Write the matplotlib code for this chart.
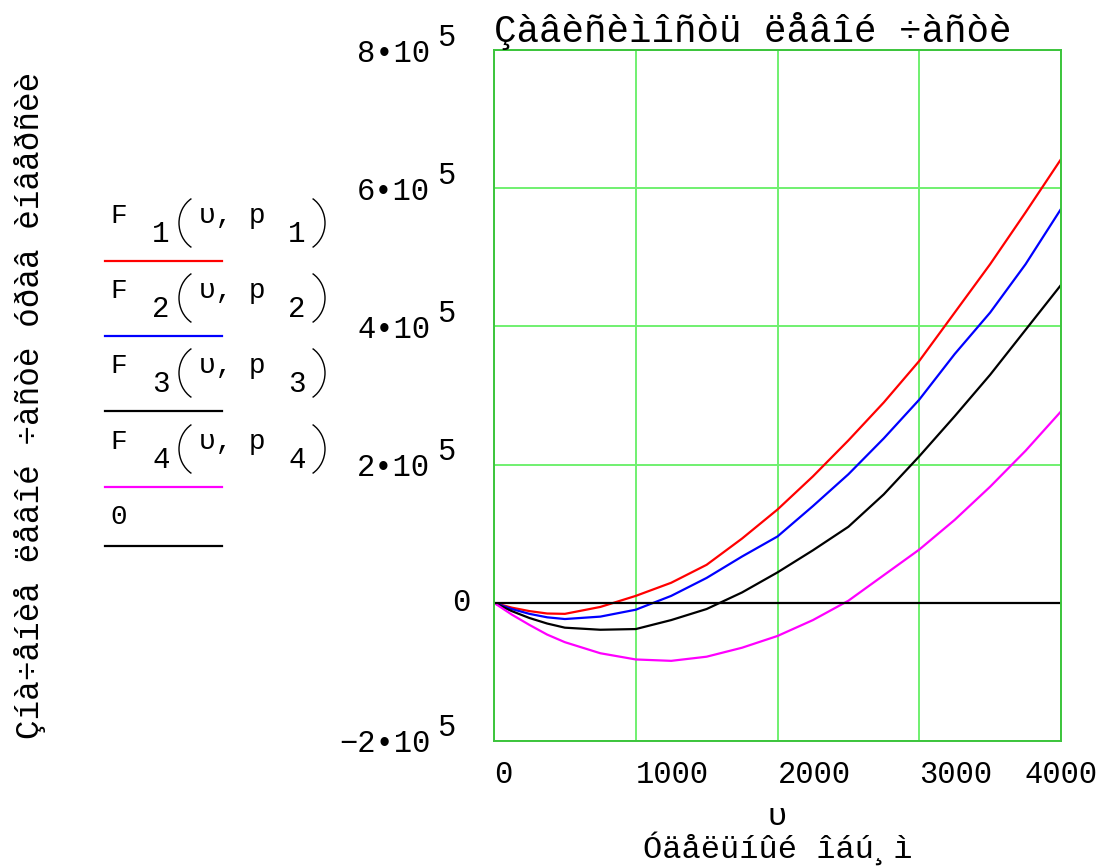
import numpy as np
import matplotlib
matplotlib.use('Agg')
import matplotlib.pyplot as plt
from matplotlib.lines import Line2D
from matplotlib.patches import Arc

plt.rcParams['font.family'] = ['Liberation Mono', 'DejaVu Sans Mono', 'DejaVu Sans']

# specific volume (x) and left side values
v = [0, 125, 250, 375, 500, 750, 1000, 1250, 1500, 1750, 2000,
     2250, 2500, 2750, 3000, 3250, 3500, 3750, 4000]
F1 = [0, -7e3, -1.2e4, -1.55e4, -1.6e4, -6e3, 1.0e4, 2.9e4, 5.5e4, 9.3e4, 1.35e5,
      1.83e5, 2.35e5, 2.9e5, 3.5e5, 4.2e5, 4.9e5, 5.65e5, 6.42e5]
F2 = [0, -9e3, -1.6e4, -2.1e4, -2.35e4, -2.0e4, -1.0e4, 1.0e4, 3.6e4, 6.7e4, 9.6e4,
      1.4e5, 1.86e5, 2.38e5, 2.94e5, 3.6e5, 4.2e5, 4.9e5, 5.7e5]
F3 = [0, -1.2e4, -2.2e4, -3.0e4, -3.6e4, -3.9e4, -3.8e4, -2.5e4, -9e3, 1.5e4, 4.4e4,
      7.6e4, 1.1e5, 1.57e5, 2.12e5, 2.7e5, 3.3e5, 3.95e5, 4.6e5]
F4 = [0, -1.7e4, -3.2e4, -4.6e4, -5.7e4, -7.3e4, -8.2e4, -8.4e4, -7.8e4, -6.5e4, -4.8e4,
      -2.5e4, 3e3, 4.0e4, 7.7e4, 1.2e5, 1.68e5, 2.2e5, 2.77e5]
zero = [0] * len(v)

series = [F1, F2, F3, F4, zero]
colors = ['#ff0000', '#0000ff', '#000000', '#ff00ff', '#000000']
sub = ['1', '2', '3', '4']

xticks = [0, 1000, 2000, 3000, 4000]
yticks = [-2e5, 0, 2e5, 4e5, 6e5, 8e5]
ymant = ['\u22122•10', '', '2•10', '4•10', '6•10', '8•10']
yexp = ['5', '', '5', '5', '5', '5']

title = 'Çàâèñèìîñòü ëåâîé ÷àñòè'
xlab = 'υ\nÓäåëüíûé îáú¸ì'
ylab = 'Çíà÷åíèå ëåâîé ÷àñòè óðàâ èíâåðñèè'

W, H = 1109, 867
fig = plt.figure(figsize=(W / 100, H / 100), dpi=100)
ax = fig.add_axes([494 / W, 1 - 741 / H, (1061 - 494) / W, (741 - 50) / H])

for s, c in zip(series, colors):
    ax.plot(v, s, color=c, lw=1.6)

ax.set_xlim(0, 4000)
ax.set_ylim(-2e5, 8e5)
ax.set_xticks(xticks)
ax.set_xticklabels([str(t) for t in xticks])
ax.set_yticks(yticks)
ax.set_yticklabels(ymant)
ax.tick_params(length=0, labelsize=22)
ax.tick_params(axis='y', pad=46)
ax.tick_params(axis='x', pad=14)
for lbl in ax.get_xticklabels()[:-1]:
    lbl.set_ha('left')
ax.get_xticklabels()[-1].set_ha('center')

# exponents and the plain zero label next to the y ticks
for t, m, e in zip(yticks, ymant, yexp):
    if m == '':
        ax.annotate('0', xy=(0, t), xycoords=('axes fraction', 'data'),
                    xytext=(-17, 0), textcoords='offset points',
                    ha='right', va='center', fontsize=22)
    else:
        ax.annotate(e, xy=(0, t), xycoords=('axes fraction', 'data'),
                    xytext=(-28, 9), textcoords='offset points',
                    ha='right', va='center', fontsize=22)

ax.grid(True, color='#70f070', lw=1.4)
for sp in ax.spines.values():
    sp.set_color('#3cc43c')
    sp.set_linewidth(1.4)

ax.set_title(title, loc='left', fontsize=27, pad=3)
ax.set_xlabel(xlab, fontsize=23, labelpad=8, linespacing=1.0)
fig.text(30 / W, 1 - 405 / H, ylab, rotation=90, fontsize=23.5,
         ha='center', va='center')

# legend block on the left
def px(x, y):
    return x / W, 1 - y / H

line_y = [261, 336, 411, 487, 546]
for i, c in enumerate(colors):
    ly = line_y[i]
    fig.add_artist(Line2D([105 / W, 222 / W], [1 - ly / H] * 2, color=c, lw=1.6))
    if i < 4:
        fig.text(*px(110, ly - 45), 'F', fontsize=20, va='center', ha='left')
        fig.text(*px(152, ly - 27), sub[i], fontsize=21, va='center', ha='left')
        fig.text(*px(199, ly - 45), 'υ, p', fontsize=20, va='center', ha='left')
        fig.text(*px(288, ly - 27), sub[i], fontsize=21, va='center', ha='left')
        cy = ly - 38
        fig.add_artist(Arc(px(206, cy), 54 / W, 58 / H, theta1=115, theta2=245,
                           transform=fig.transFigure, color='black', lw=1.0))
        fig.add_artist(Arc(px(298, cy), 54 / W, 58 / H, theta1=-65, theta2=65,
                           transform=fig.transFigure, color='black', lw=1.0))
    else:
        fig.text(*px(110, ly - 29), '0', fontsize=20, va='center', ha='left')

fig.savefig('out.png', dpi=100)
